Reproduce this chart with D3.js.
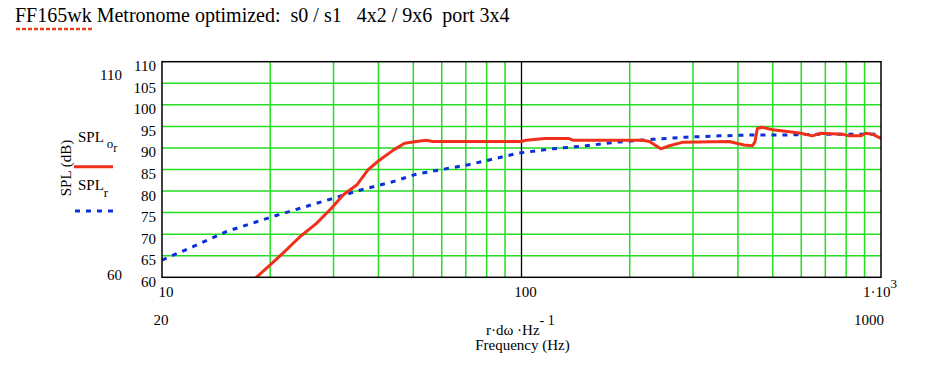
<!DOCTYPE html>
<html><head><meta charset="utf-8">
<script src="https://cdn.jsdelivr.net/npm/d3@7"></script>
<style>
body{margin:0;background:#fff;}
svg text{font-family:"Liberation Serif","Times New Roman",serif;fill:#000;}
</style></head>
<body><svg id="c" width="935" height="379"></svg>
<script>
// ---- data ----
const redFreq = [18.0,18.3,20.0,21.7,24.2,26.9,29.6,31.9,34.8,37.4,40.3,44.0,47.3,51.0,54.3,56.6,100,103,116,135,139,217,227,244,258,280,378,416,439,446,453,466,499,549,598,644,680,781,815,878,907,946,1000];
const redSPL  = [59.5,60.0,62.9,65.6,69.4,72.5,76.0,79.1,81.4,84.9,87.2,89.5,91.1,91.5,91.8,91.5,91.5,91.8,92.2,92.2,91.8,91.8,91.5,89.8,90.5,91.3,91.5,90.7,90.5,91.4,94.5,94.8,94.2,93.8,93.4,92.8,93.4,93.2,92.8,92.8,93.4,93.2,92.2];
const blueFreq = [10,12.2,15.1,20,24.2,29.9,35.5,44,50.9,59.1,70.2,83.2,98,122,151,187,232,287,355,439,543,673,835,1000];
const blueSPL  = [64.0,67.1,70.6,73.9,76.0,78.3,80.2,82.2,83.9,84.9,86.0,87.4,88.8,89.8,90.5,91.4,92.0,92.5,92.8,93.0,93.0,93.2,93.2,93.2];
const yTicks = [60,65,70,75,80,85,90,95,100,105,110];
const xMinor = [20,30,40,50,60,70,80,90,200,300,400,500,600,700,800,900];
const xMajor = [10,100,1000];
const title = "FF165wk Metronome optimized:  s0 / s1   4x2 / 9x6  port 3x4";

const svg = d3.select("#c");
const L=162, R=881, T=61.7, B=277.3;
const x = d3.scaleLog().domain([10,1000]).range([L,R]);
const y = d3.scaleLinear().domain([60,110]).range([B,T]);

// title
svg.append("text").attr("x",15).attr("y",22).attr("font-size",20).style("white-space","pre").text(title);
svg.append("line").attr("x1",16).attr("x2",93).attr("y1",29).attr("y2",29)
  .attr("stroke","#e8401c").attr("stroke-width",2.5).attr("stroke-dasharray","4,2");

// grid
const g = svg.append("g");
g.selectAll(".hy").data(yTicks.filter(d=>d>60&&d<110)).join("line")
  .attr("x1",L).attr("x2",R).attr("y1",d=>y(d)).attr("y2",d=>y(d))
  .attr("stroke","#22dd22").attr("stroke-width",1.5);
g.selectAll(".vx").data(xMinor).join("line")
  .attr("x1",d=>x(d)).attr("x2",d=>x(d)).attr("y1",T).attr("y2",B)
  .attr("stroke","#22dd22").attr("stroke-width",1.5);
g.append("line").attr("x1",x(100)).attr("x2",x(100)).attr("y1",T).attr("y2",B)
  .attr("stroke","#000").attr("stroke-width",1.3);

// curves
svg.append("clipPath").attr("id","pc").append("rect")
  .attr("x",L).attr("y",T).attr("width",R-L).attr("height",B-T);
const line = d3.line().x(d=>x(d[0])).y(d=>y(d[1]));
svg.append("path").attr("clip-path","url(#pc)")
  .attr("d",line(blueFreq.map((f,i)=>[f,blueSPL[i]])))
  .attr("fill","none").attr("stroke","#0a2fd8").attr("stroke-width",3)
  .attr("stroke-dasharray","5,6");
svg.append("path").attr("clip-path","url(#pc)")
  .attr("d",line(redFreq.map((f,i)=>[f,redSPL[i]])))
  .attr("fill","none").attr("stroke","#f0301a").attr("stroke-width",3)
  .attr("stroke-linejoin","round");

// frame
svg.append("rect").attr("x",L).attr("y",T).attr("width",R-L).attr("height",B-T)
  .attr("fill","none").attr("stroke","#000").attr("stroke-width",1.5);

// y tick labels
svg.selectAll(".yl").data(yTicks).join("text")
  .attr("x",L-6).attr("y",d=>y(d)+9.5).attr("text-anchor","end").attr("font-size",15).text(d=>d);
// limits on left
svg.append("text").attr("x",122).attr("y",80).attr("text-anchor","end").attr("font-size",15).text(yTicks[yTicks.length-1]);
svg.append("text").attr("x",122).attr("y",279.5).attr("text-anchor","end").attr("font-size",15).text(yTicks[0]);

// x tick labels
svg.append("text").attr("x",x(10)+4).attr("y",297).attr("text-anchor","middle").attr("font-size",15).text(xMajor[0]);
svg.append("text").attr("x",x(100)+4).attr("y",297).attr("text-anchor","middle").attr("font-size",15).text(xMajor[1]);
const t3 = svg.append("text").attr("x",x(1000)-18).attr("y",297).attr("font-size",15);
t3.append("tspan").text("1\u00B710");
t3.append("tspan").attr("dy",-9).attr("font-size",13).text("3");
// limits below
svg.append("text").attr("x",161).attr("y",325).attr("text-anchor","middle").attr("font-size",15).text("20");
svg.append("text").attr("x",869).attr("y",325).attr("text-anchor","middle").attr("font-size",15).text(xMajor[2]);

// x axis label
const xl = svg.append("text").attr("x",486).attr("y",335).attr("font-size",15).style("white-space","pre");
xl.append("tspan").text("r\u00B7d\u03C9 \u00B7Hz");
xl.append("tspan").attr("dy",-10).attr("font-size",14).text("- 1");
svg.append("text").attr("x",522.5).attr("y",350).attr("text-anchor","middle").attr("font-size",15).text("Frequency (Hz)");

// y axis label
svg.append("text").attr("transform","translate(71,168) rotate(-90)").attr("text-anchor","middle")
  .attr("font-size",15).text("SPL (dB)");

// legend
const l1 = svg.append("text").attr("x",78).attr("y",142).attr("font-size",15);
l1.append("tspan").text("SPL");
l1.append("tspan").attr("dx",3).attr("dy",6).attr("font-size",13).text("o");
l1.append("tspan").attr("dy",4).attr("font-size",12).text("r");
svg.append("line").attr("x1",74).attr("x2",113).attr("y1",166.7).attr("y2",166.7)
  .attr("stroke","#f0301a").attr("stroke-width",3);
const l2 = svg.append("text").attr("x",78).attr("y",190).attr("font-size",15);
l2.append("tspan").text("SPL");
l2.append("tspan").attr("dy",7).attr("font-size",13).text("r");
svg.append("line").attr("x1",75).attr("x2",113).attr("y1",211).attr("y2",211)
  .attr("stroke","#0a2fd8").attr("stroke-width",3).attr("stroke-dasharray","5,6");
</script></body></html>
